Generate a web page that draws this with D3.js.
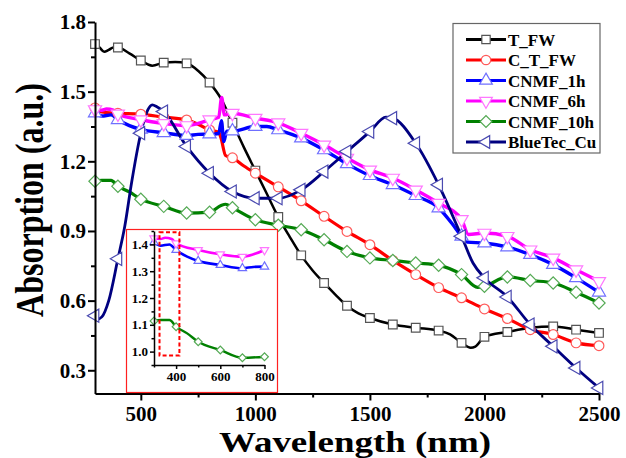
<!DOCTYPE html>
<html>
<head>
<meta charset="utf-8">
<script src="https://cdn.jsdelivr.net/npm/d3@7/dist/d3.min.js"></script>
<style>
  html, body { margin:0; padding:0; background:#fff; }
  svg, svg text { font-family:"Liberation Serif","Times New Roman",serif; font-weight:bold; }
  .axis path, .axis line { stroke:#000; stroke-width:2; }
  .axis text { font-size:21px; font-weight:bold; fill:#000; }
  .iaxis path, .iaxis line { stroke:#000; stroke-width:1.5; }
  .iaxis text { font-size:13px; font-weight:bold; fill:#000; }
</style>
</head>
<body>
<div id="chart"></div>
<script>
/* Absorption spectra: [wavelength nm, absorption a.u.] */
const T_FW = [[300,1.705],[320,1.69],[340,1.672],[360,1.68],[380,1.69],[400,1.69],[450,1.665],
  [500,1.634],[550,1.612],[600,1.625],[650,1.628],[700,1.622],[750,1.59],[800,1.539],[850,1.47],
  [900,1.366],[950,1.26],[1000,1.16],[1050,1.06],[1100,0.96],[1150,0.875],[1200,0.795],[1250,0.73],
  [1300,0.676],[1350,0.625],[1400,0.578],[1450,0.545],[1500,0.525],[1600,0.497],[1700,0.483],
  [1800,0.471],[1850,0.455],[1900,0.418],[1940,0.397],[1960,0.402],[2000,0.444],[2100,0.465],
  [2200,0.483],[2300,0.489],[2400,0.475],[2500,0.461]];
const C_T_FW = [[300,1.43],[320,1.415],[350,1.41],[400,1.407],[500,1.403],[600,1.39],[700,1.378],
  [750,1.36],[800,1.335],[840,1.325],[850,1.30],[870,1.225],[900,1.215],[950,1.18],[1000,1.149],
  [1100,1.09],[1200,1.03],[1300,0.963],[1400,0.898],[1500,0.841],[1600,0.773],[1700,0.712],
  [1800,0.656],[1900,0.612],[2000,0.564],[2100,0.523],[2200,0.475],[2300,0.454],[2400,0.418],[2500,0.406]];
const CNMF_1h = [[300,1.408],[330,1.395],[370,1.40],[400,1.379],[450,1.354],[500,1.338],[600,1.323],
  [700,1.311],[750,1.316],[800,1.317],[840,1.32],[852,1.375],[862,1.285],[875,1.33],[900,1.33],
  [1000,1.35],[1050,1.35],[1100,1.335],[1200,1.30],[1300,1.249],[1400,1.189],[1500,1.138],
  [1600,1.099],[1700,1.052],[1800,0.999],[1860,0.93],[1900,0.877],[1925,0.852],[2000,0.848],
  [2100,0.831],[2200,0.798],[2300,0.755],[2400,0.698],[2500,0.636]];
const CNMF_6h = [[300,1.423],[330,1.42],[350,1.425],[380,1.42],[400,1.404],[500,1.379],[600,1.363],
  [700,1.354],[750,1.363],[800,1.379],[840,1.39],[853,1.475],[865,1.40],[900,1.407],[1000,1.386],
  [1100,1.366],[1200,1.321],[1300,1.271],[1400,1.214],[1500,1.163],[1600,1.128],[1700,1.077],
  [1800,1.02],[1900,0.95],[1930,0.885],[2000,0.891],[2100,0.877],[2200,0.819],[2300,0.784],
  [2400,0.733],[2500,0.683]];
const CNMF_10h = [[300,1.114],[330,1.118],[370,1.118],[400,1.093],[450,1.068],[500,1.037],[600,1.006],
  [700,0.977],[800,0.981],[850,1.01],[870,1.015],[900,1.0],[1000,0.948],[1100,0.925],[1200,0.905],
  [1300,0.862],[1400,0.812],[1500,0.784],[1600,0.773],[1700,0.762],[1800,0.752],[1900,0.712],
  [1970,0.657],[2000,0.662],[2100,0.702],[2200,0.687],[2300,0.676],[2400,0.636],[2500,0.59]];
const BlueTec_Cu = [[300,0.535],[310,0.52],[330,0.53],[360,0.6],[400,0.78],[430,0.92],[460,1.11],
  [500,1.321],[530,1.42],[550,1.443],[570,1.435],[600,1.414],[700,1.264],[800,1.149],[900,1.07],
  [1000,1.041],[1100,1.041],[1200,1.077],[1300,1.156],[1400,1.242],[1500,1.328],[1570,1.39],
  [1600,1.386],[1700,1.278],[1800,1.099],[1900,0.877],[1950,0.762],[2000,0.698],[2100,0.616],
  [2200,0.497],[2300,0.403],[2400,0.31],[2500,0.224]];

const NAMES = ["T_FW","C_T_FW","CNMF_1h","CNMF_6h","CNMF_10h","BlueTec_Cu"];
const VALUES = [T_FW, C_T_FW, CNMF_1h, CNMF_6h, CNMF_10h, BlueTec_Cu];
const INSET_NAMES = ["CNMF_1h","CNMF_6h","CNMF_10h"];

const X_MAJOR = [500,1000,1500,2000,2500];
const X_MINOR = [750,1250,1750,2250];
const Y_MAJOR = [0.3,0.6,0.9,1.2,1.5,1.8];
const Y_MINOR = [0.45,0.75,1.05,1.35,1.65];
const IX_MAJOR = [400,600,800];
const IX_MINOR = [300,500,700];
const IY_MAJOR = [1.0,1.1,1.2,1.3,1.4];
const IY_MINOR = [0.95,1.05,1.15,1.25,1.35,1.45];
const ZOOM_BOX = [325,415,0.985,1.445];   // dashed region inside the inset

/* styles per series */
const STYLE = {
  T_FW:      {line:"#000000", mk:"#555555", sym:d3.symbolSquare,   rot:0,   w:2.5},
  C_T_FW:    {line:"#ff0000", mk:"#ff5a5a", sym:d3.symbolCircle,   rot:0,   w:3.2},
  CNMF_1h:   {line:"#0000ff", mk:"#6f6fff", sym:d3.symbolTriangle, rot:0,   w:3.4},
  CNMF_6h:   {line:"#ff00ff", mk:"#ff77ff", sym:d3.symbolTriangle, rot:180, w:3.4},
  CNMF_10h:  {line:"#008000", mk:"#55aa55", sym:d3.symbolSquare,   rot:45,  w:3.2},
  BlueTec_Cu:{line:"#000080", mk:"#4a4ab0", sym:d3.symbolTriangle, rot:-90, w:2.8}
};

const W = 626, H = 458;
const x = d3.scaleLinear().domain([300,2500]).range([95,599]);
const y = d3.scaleLinear().domain([0.2,1.8]).range([393.5,22]);
const ix = d3.scaleLinear().domain([300,800]).range([154,264.5]);
const iy = d3.scaleLinear().domain([0.95,1.45]).range([365,231]);

const svg = d3.select("#chart").append("svg").attr("width",W).attr("height",H);

const series = NAMES.map((n,i) => ({name:n, pts:VALUES[i].map(([w,v]) => ({w, v}))}));

function symPath(st, size){
  return d3.symbol().type(st.sym).size(size)();
}

function drawSeries(g, list, sx, sy, mkSize, lineScale){
  const line = d3.line().x(d => sx(d.w)).y(d => sy(d.v)).curve(d3.curveMonotoneX);
  list.forEach(s => {
    const st = STYLE[s.name];
    g.append("path").datum(s.pts).attr("fill","none").attr("stroke",st.line)
      .attr("stroke-width",st.w*lineScale).attr("stroke-linejoin","round").attr("d",line);
  });
  list.forEach(s => {
    const st = STYLE[s.name];
    g.selectAll(null).data(s.pts.filter(d => d.w % 100 === 0)).enter().append("path")
      .attr("d", symPath(st, mkSize))
      .attr("transform", d => `translate(${sx(d.w)},${sy(d.v)}) rotate(${st.rot})`)
      .attr("fill","#fff").attr("stroke",st.mk).attr("stroke-width",1.2);
  });
}

/* main plot */
const gMain = svg.append("g");
drawSeries(gMain, series, x, y, 75, 1);

// axes: major + minor ticks, left and bottom only
svg.append("g").attr("class","axis").attr("transform","translate(0,393.5)")
  .call(d3.axisBottom(x).tickValues(X_MAJOR).tickSize(7).tickSizeOuter(0).tickPadding(6).tickFormat(d3.format("d")));
svg.append("g").attr("class","axis").attr("transform","translate(0,393.5)")
  .call(d3.axisBottom(x).tickValues(X_MINOR).tickSize(4).tickSizeOuter(0).tickFormat(""))
  .select(".domain").remove();
svg.append("g").attr("class","axis").attr("transform","translate(95,0)")
  .call(d3.axisLeft(y).tickValues(Y_MAJOR).tickSize(7).tickSizeOuter(0).tickPadding(2).tickFormat(d3.format(".1f")));
svg.append("g").attr("class","axis").attr("transform","translate(95,0)")
  .call(d3.axisLeft(y).tickValues(Y_MINOR).tickSize(4).tickSizeOuter(0).tickFormat(""))
  .select(".domain").remove();

svg.append("text").attr("x",355).attr("y",451.5).attr("text-anchor","middle")
  .attr("font-size",29).attr("textLength",272).attr("lengthAdjust","spacingAndGlyphs")
  .text("Wavelength (nm)");
svg.append("text").attr("transform","translate(43,200) scale(1.25,1) rotate(-90)")
  .attr("text-anchor","middle").attr("font-size",32).text("Absorption (a.u.)");

/* inset */
svg.append("rect").attr("x",126.5).attr("y",229.5).attr("width",151).attr("height",163)
  .attr("fill","#fff").attr("stroke","#ff2020").attr("stroke-width",1.2);
const gIn = svg.append("g");
drawSeries(gIn, series.filter(s => INSET_NAMES.includes(s.name))
  .map(s => ({name:s.name, pts:s.pts.filter(d => d.w <= 800)})), ix, iy, 30, 0.75);

svg.append("g").attr("class","iaxis").attr("transform","translate(0,365)")
  .call(d3.axisBottom(ix).tickValues(IX_MAJOR).tickSize(4).tickSizeOuter(0).tickPadding(3).tickFormat(d3.format("d")));
svg.append("g").attr("class","iaxis").attr("transform","translate(0,365)")
  .call(d3.axisBottom(ix).tickValues(IX_MINOR).tickSize(2.5).tickSizeOuter(0).tickFormat(""))
  .select(".domain").remove();
svg.append("g").attr("class","iaxis").attr("transform","translate(154,0)")
  .call(d3.axisLeft(iy).tickValues(IY_MAJOR).tickSize(4).tickSizeOuter(0).tickPadding(2).tickFormat(d3.format(".1f")));
svg.append("g").attr("class","iaxis").attr("transform","translate(154,0)")
  .call(d3.axisLeft(iy).tickValues(IY_MINOR).tickSize(2.5).tickSizeOuter(0).tickFormat(""))
  .select(".domain").remove();
svg.selectAll(".axis, .iaxis").attr("font-family", null).attr("font-size", null);

svg.append("rect")
  .attr("x",ix(ZOOM_BOX[0])).attr("y",iy(ZOOM_BOX[3]))
  .attr("width",ix(ZOOM_BOX[1])-ix(ZOOM_BOX[0])).attr("height",iy(ZOOM_BOX[2])-iy(ZOOM_BOX[3]))
  .attr("fill","none").attr("stroke","#ff0000").attr("stroke-width",2).attr("stroke-dasharray","4,2.5");

/* legend */
const lg = svg.append("g");
lg.append("rect").attr("x",453).attr("y",23.5).attr("width",147).attr("height",129.5)
  .attr("fill","#fff").attr("stroke","#666").attr("stroke-width",1.2);
NAMES.forEach((n,i) => {
  const st = STYLE[n], yy = 39.5 + i*20.5;
  lg.append("line").attr("x1",466).attr("x2",506).attr("y1",yy).attr("y2",yy)
    .attr("stroke",st.line).attr("stroke-width",3);
  lg.append("path").attr("d",symPath(st,70)).attr("transform",`translate(486,${yy}) rotate(${st.rot})`)
    .attr("fill","#fff").attr("stroke",st.mk).attr("stroke-width",1.2);
  lg.append("text").attr("x",508).attr("y",yy+6).attr("font-size",17).text(n);
});
</script>
</body>
</html>
